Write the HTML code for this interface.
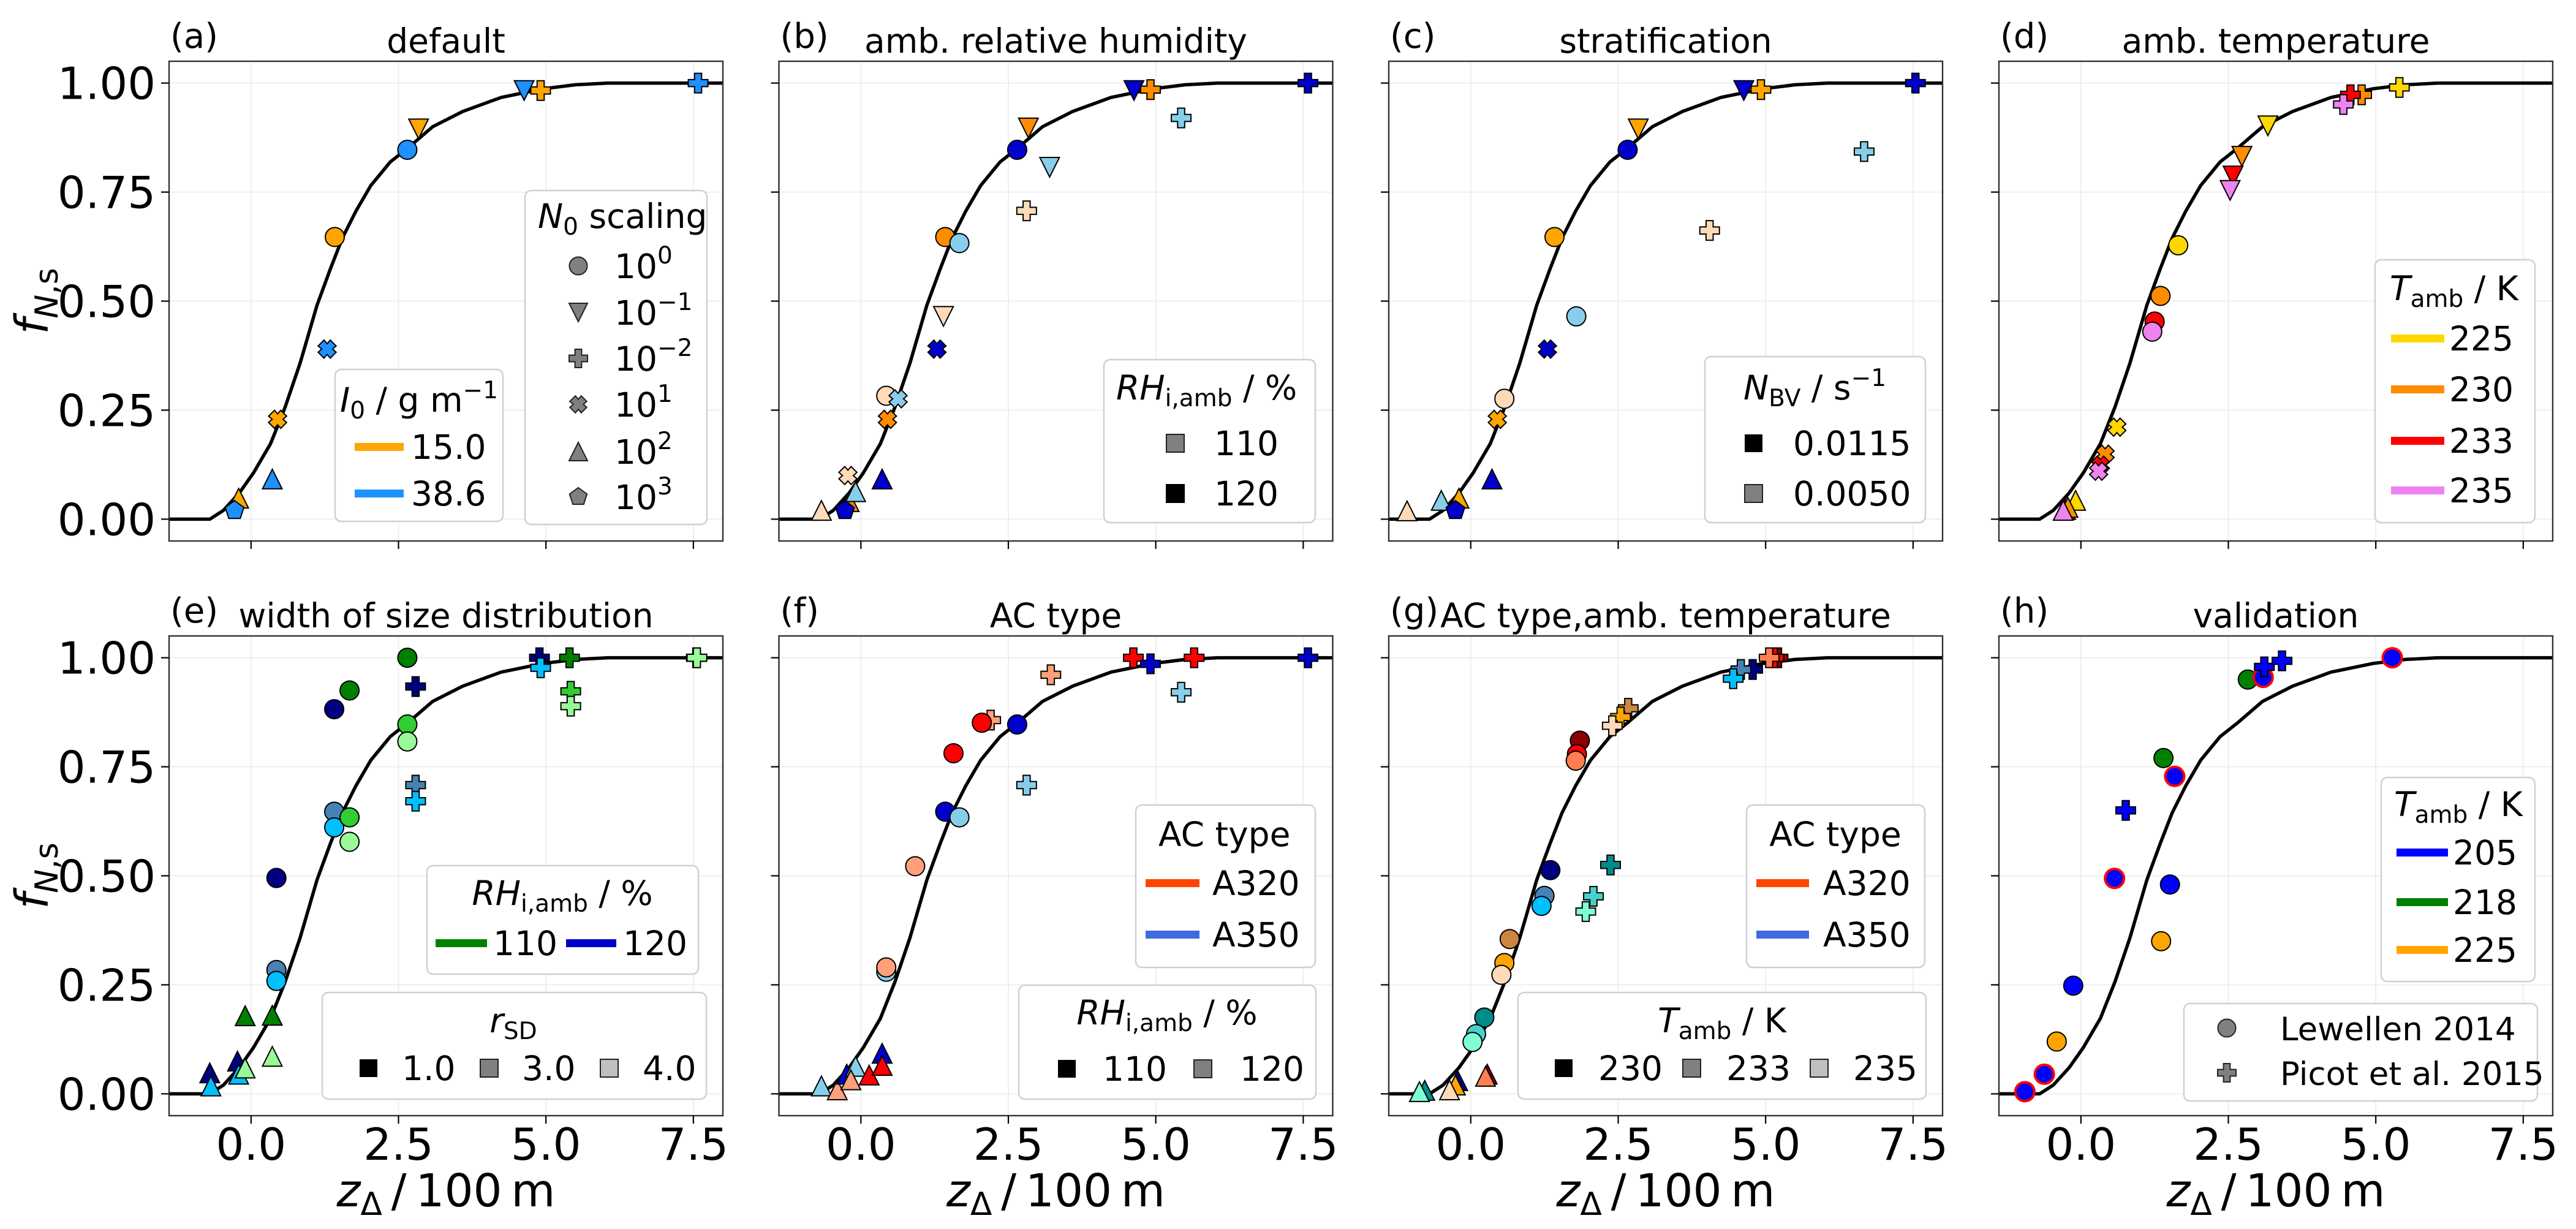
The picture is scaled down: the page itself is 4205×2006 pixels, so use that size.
<!DOCTYPE html>
<html><head><meta charset="utf-8"><title>f_N,s panels</title>
<style>
html,body{margin:0;padding:0;background:#fff;}
svg{display:block;font-family:"DejaVu Sans","Liberation Sans",sans-serif;}
</style></head>
<body>
<svg id="fig" xmlns="http://www.w3.org/2000/svg" width="4205" height="2006" viewBox="0 0 4205 2006">
<rect x="0" y="0" width="4205" height="2006" fill="#fff"/>
<g id="plots"></g>
<g id="legends" font-size="55" fill="#000">
  <g>
    <rect x="547" y="603" width="274" height="248" rx="10" fill="#fff" stroke="#d0d0d0" stroke-width="2.5"/>
    <text x="684" y="672" text-anchor="middle"><tspan font-style="italic">I</tspan><tspan dy="11" font-size="39">0</tspan><tspan dy="-11"> / g m</tspan><tspan dy="-22" font-size="39">−1</tspan></text>
    <rect x="579" y="723" width="80" height="13" fill="#FFA500"/><text x="671" y="749">15.0</text>
    <rect x="579" y="799" width="80" height="13" fill="#1E90FF"/><text x="671" y="825">38.6</text>
  </g>
  <g>
    <rect x="857" y="311" width="297" height="545" rx="10" fill="#fff" stroke="#d0d0d0" stroke-width="2.5"/>
    <text x="878" y="372"><tspan font-style="italic">N</tspan><tspan dy="11" font-size="39">0</tspan><tspan dy="-11"> scaling</tspan></text>
    <g id="n0marks"></g>
    <text x="1003" y="454">10<tspan dy="-24" font-size="39">0</tspan></text>
    <text x="1003" y="530">10<tspan dy="-24" font-size="39">−1</tspan></text>
    <text x="1003" y="605">10<tspan dy="-24" font-size="39">−2</tspan></text>
    <text x="1003" y="680">10<tspan dy="-24" font-size="39">1</tspan></text>
    <text x="1003" y="757">10<tspan dy="-24" font-size="39">2</tspan></text>
    <text x="1003" y="831">10<tspan dy="-24" font-size="39">3</tspan></text>
  </g>
  <g>
    <rect x="1802" y="587" width="345" height="266" rx="10" fill="#fff" stroke="#d0d0d0" stroke-width="2.5"/>
    <text x="1822" y="652"><tspan font-style="italic">RH</tspan><tspan dy="11" font-size="39">i,amb</tspan><tspan dy="-11"> / %</tspan></text>
    <rect x="1904" y="709" width="29" height="29" fill="#808080" stroke="#222" stroke-width="2"/><text x="1982" y="743">110</text>
    <rect x="1904" y="791" width="29" height="29" fill="#000" stroke="#000" stroke-width="2"/><text x="1982" y="825">120</text>
  </g>
  <g>
    <rect x="2783" y="582" width="360" height="271" rx="10" fill="#fff" stroke="#d0d0d0" stroke-width="2.5"/>
    <text x="2846" y="652"><tspan font-style="italic">N</tspan><tspan dy="11" font-size="39">BV</tspan><tspan dy="-11"> / s</tspan><tspan dy="-22" font-size="39">−1</tspan></text>
    <rect x="2848" y="709" width="29" height="29" fill="#000"/><text x="2927" y="743">0.0115</text>
    <rect x="2848" y="791" width="29" height="29" fill="#808080" stroke="#222" stroke-width="2"/><text x="2927" y="825">0.0050</text>
  </g>
  <g>
    <rect x="3877" y="424" width="261" height="429" rx="10" fill="#fff" stroke="#d0d0d0" stroke-width="2.5"/>
    <text x="3901" y="490"><tspan font-style="italic">T</tspan><tspan dy="11" font-size="39">amb</tspan><tspan dy="-11"> / K</tspan></text>
    <rect x="3903" y="546" width="87" height="13" fill="#FFD700"/><text x="3998" y="572">225</text>
    <rect x="3903" y="629" width="87" height="13" fill="#FF8C00"/><text x="3998" y="655">230</text>
    <rect x="3903" y="713" width="87" height="13" fill="#FF0000"/><text x="3998" y="739">233</text>
    <rect x="3903" y="794" width="87" height="13" fill="#EE82EE"/><text x="3998" y="820">235</text>
  </g>
  <g>
    <rect x="697" y="1413" width="443" height="177" rx="10" fill="#fff" stroke="#d0d0d0" stroke-width="2.5"/>
    <text x="918" y="1477" text-anchor="middle"><tspan font-style="italic">RH</tspan><tspan dy="11" font-size="39">i,amb</tspan><tspan dy="-11"> / %</tspan></text>
    <rect x="711" y="1533" width="84" height="13" fill="#008000"/><text x="805" y="1559">110</text>
    <rect x="924" y="1533" width="82" height="13" fill="#0000CD"/><text x="1017" y="1559">120</text>
  </g>
  <g>
    <rect x="526" y="1620" width="627" height="174" rx="10" fill="#fff" stroke="#d0d0d0" stroke-width="2.5"/>
    <text x="838" y="1685" text-anchor="middle"><tspan font-style="italic">r</tspan><tspan dy="11" font-size="39">SD</tspan></text>
    <rect x="587" y="1729" width="29" height="29" fill="#000"/><text x="656" y="1763">1.0</text>
    <rect x="784" y="1729" width="29" height="29" fill="#808080" stroke="#222" stroke-width="2"/><text x="852" y="1763">3.0</text>
    <rect x="980" y="1729" width="29" height="29" fill="#C0C0C0" stroke="#222" stroke-width="2"/><text x="1049" y="1763">4.0</text>
  </g>
  <g>
    <rect x="1854" y="1314" width="293" height="265" rx="10" fill="#fff" stroke="#d0d0d0" stroke-width="2.5"/>
    <text x="1891" y="1381">AC type</text>
    <rect x="1870" y="1435" width="88" height="13" fill="#FF4500"/><text x="1979" y="1461">A320</text>
    <rect x="1870" y="1519" width="88" height="13" fill="#4169E1"/><text x="1979" y="1545">A350</text>
  </g>
  <g>
    <rect x="1663" y="1608" width="485" height="186" rx="10" fill="#fff" stroke="#d0d0d0" stroke-width="2.5"/>
    <text x="1905" y="1672" text-anchor="middle"><tspan font-style="italic">RH</tspan><tspan dy="11" font-size="39">i,amb</tspan><tspan dy="-11"> / %</tspan></text>
    <rect x="1727" y="1730" width="29" height="29" fill="#000"/><text x="1800" y="1764">110</text>
    <rect x="1949" y="1730" width="29" height="29" fill="#808080" stroke="#222" stroke-width="2"/><text x="2024" y="1764">120</text>
  </g>
  <g>
    <rect x="2851" y="1314" width="291" height="265" rx="10" fill="#fff" stroke="#d0d0d0" stroke-width="2.5"/>
    <text x="2996" y="1381" text-anchor="middle">AC type</text>
    <rect x="2867" y="1435" width="86" height="13" fill="#FF4500"/><text x="2976" y="1461">A320</text>
    <rect x="2867" y="1519" width="86" height="13" fill="#4169E1"/><text x="2976" y="1545">A350</text>
  </g>
  <g>
    <rect x="2478" y="1620" width="666" height="174" rx="10" fill="#fff" stroke="#d0d0d0" stroke-width="2.5"/>
    <text x="2811" y="1685" text-anchor="middle"><tspan font-style="italic">T</tspan><tspan dy="11" font-size="39">amb</tspan><tspan dy="-11"> / K</tspan></text>
    <rect x="2538" y="1729" width="29" height="29" fill="#000"/><text x="2609" y="1763">230</text>
    <rect x="2747" y="1729" width="29" height="29" fill="#808080" stroke="#222" stroke-width="2"/><text x="2818" y="1763">233</text>
    <rect x="2955" y="1729" width="29" height="29" fill="#C0C0C0" stroke="#222" stroke-width="2"/><text x="3025" y="1763">235</text>
  </g>
  <g>
    <rect x="3887" y="1269" width="251" height="333" rx="10" fill="#fff" stroke="#d0d0d0" stroke-width="2.5"/>
    <text x="3908" y="1332"><tspan font-style="italic">T</tspan><tspan dy="11" font-size="39">amb</tspan><tspan dy="-11"> / K</tspan></text>
    <rect x="3912" y="1385" width="84" height="13" fill="#0000FF"/><text x="4004" y="1411">205</text>
    <rect x="3912" y="1466" width="84" height="13" fill="#008000"/><text x="4004" y="1492">218</text>
    <rect x="3912" y="1544" width="84" height="13" fill="#FFA500"/><text x="4004" y="1570">225</text>
  </g>
  <g>
    <rect x="3565" y="1638" width="577" height="159" rx="10" fill="#fff" stroke="#d0d0d0" stroke-width="2.5"/>
    <g id="srcmarks"></g>
    <text x="3722" y="1698" font-size="53">Lewellen 2014</text>
    <text x="3722" y="1771" font-size="53">Picot et al. 2015</text>
  </g>
</g>
</svg>
<script>
// shared fitted curve
const curveX = [-1.39,-0.70,-0.47,-0.2,0.04,0.33,0.58,0.83,1.12,1.34,1.55,1.78,2.03,2.36,2.65,3.08,3.59,4.24,4.96,5.5,6.05,8.0];
const curveY = [0,0,0.02,0.06,0.106,0.173,0.258,0.357,0.491,0.572,0.645,0.707,0.765,0.819,0.85,0.9,0.935,0.967,0.987,0.996,1.0,1.0];
const xTicks = [0, 2.5, 5, 7.5];
const xTickLabels = ["0.0","2.5","5.0","7.5"];
const yTicks = [0, 0.25, 0.5, 0.75, 1.0];
const yTickLabels = ["0.00","0.25","0.50","0.75","1.00"];

// (a)
const A_x = [-0.21,-0.28,0.36,0.45,1.29,1.42,2.65,2.84,4.63,4.91,7.58];
const A_y = [0.048,0.02,0.092,0.229,0.39,0.647,0.847,0.895,0.983,0.983,1.0];
const A_m = ["^","p","^","X","X","o","o","v","v","P","P"];
const A_c = ["#FFA500","#1E90FF","#1E90FF","#FFA500","#1E90FF","#FFA500","#1E90FF","#FFA500","#1E90FF","#FFA500","#1E90FF"];
// (b)
const B_x = [-0.67,-0.2,-0.27,-0.09,-0.22,0.36,0.45,0.43,0.63,1.29,1.40,1.43,1.67,2.65,2.84,3.20,2.81,4.63,4.91,5.43,7.58];
const B_y = [0.02,0.04,0.02,0.063,0.10,0.092,0.229,0.283,0.276,0.39,0.465,0.647,0.633,0.847,0.897,0.807,0.707,0.983,0.985,0.92,1.0];
const B_m = ["^","^","p","^","X","^","X","o","X","X","v","o","o","o","v","v","P","v","P","P","P"];
const B_c = ["#FFDAB9","#FF8C00","#0000CD","#87CEEB","#FFDAB9","#0000CD","#FF8C00","#FFDAB9","#87CEEB","#0000CD","#FFDAB9","#FF8C00","#87CEEB","#0000CD","#FF8C00","#87CEEB","#FFDAB9","#0000CD","#FF8C00","#87CEEB","#0000CD"];
// (c)
const C_x = [-1.08,-0.5,-0.2,-0.26,0.36,0.45,0.57,1.30,1.79,1.42,2.66,2.84,4.05,4.63,4.92,6.67,7.54];
const C_y = [0.019,0.043,0.048,0.02,0.092,0.229,0.276,0.39,0.465,0.647,0.847,0.895,0.662,0.983,0.985,0.843,1.0];
const C_m = ["^","^","^","p","^","X","o","X","o","o","o","v","P","v","P","P","P"];
const C_c = ["#FFDAB9","#87CEEB","#FFA500","#0000CD","#0000CD","#FFA500","#FFDAB9","#0000CD","#87CEEB","#FFA500","#0000CD","#FFA500","#FFDAB9","#0000CD","#FFA500","#87CEEB","#0000CD"];
// (d)
const D_x = [-0.09,-0.26,-0.22,-0.3,0.61,0.41,0.33,0.30,1.65,1.35,1.25,1.21,3.17,2.73,2.58,2.53,5.40,4.76,4.57,4.45];
const D_y = [0.043,0.022,0.027,0.02,0.211,0.149,0.124,0.11,0.628,0.512,0.453,0.43,0.902,0.832,0.787,0.754,0.99,0.973,0.973,0.951];
const D_m = ["^","^","^","^","X","X","X","X","o","o","o","o","v","v","v","v","P","P","P","P"];
const D_c = ["#FFD700","#FF0000","#FF8C00","#EE82EE","#FFD700","#FF8C00","#FF0000","#EE82EE","#FFD700","#FF8C00","#FF0000","#EE82EE","#FFD700","#FF8C00","#FF0000","#EE82EE","#FFD700","#FF8C00","#FF0000","#EE82EE"];
// (e)
const E_x = [-0.70,-0.68,-0.23,-0.21,-0.1,-0.1,0.36,0.36,0.43,0.43,0.43,1.41,1.41,1.41,1.67,1.67,1.67,2.65,2.65,2.65,2.79,2.79,2.79,4.89,4.91,5.40,5.42,5.42,7.55,7.56];
const E_y = [0.048,0.018,0.075,0.045,0.059,0.179,0.18,0.086,0.495,0.284,0.259,0.882,0.647,0.611,0.925,0.634,0.578,1.0,0.847,0.808,0.934,0.708,0.671,1.0,0.977,1.0,0.923,0.889,1.0,1.0];
const E_m = ["^","^","^","^","^","^","^","^","o","o","o","o","o","o","o","o","o","o","o","o","P","P","P","P","P","P","P","P","P","P"];
const E_c = ["#000080","#00BFFF","#000080","#00BFFF","#98FB98","#008000","#008000","#98FB98","#000080","#4682B4","#00BFFF","#000080","#4682B4","#00BFFF","#008000","#32CD32","#98FB98","#008000","#32CD32","#98FB98","#000080","#4682B4","#00BFFF","#000080","#00BFFF","#008000","#32CD32","#98FB98","#32CD32","#98FB98"];
// (f)
const F_x = [-0.67,-0.4,-0.24,-0.09,-0.17,0.14,0.36,0.36,0.43,0.43,0.92,1.43,1.67,1.57,2.2,2.05,2.65,2.81,3.22,4.62,4.91,5.65,5.43,7.58];
const F_y = [0.018,0.009,0.045,0.063,0.032,0.043,0.093,0.065,0.28,0.29,0.522,0.647,0.634,0.781,0.857,0.851,0.847,0.708,0.961,1.0,0.986,1.0,0.921,1.0];
const F_m = ["^","^","^","^","^","^","^","^","o","o","o","o","o","o","P","o","o","P","P","P","P","P","P","P"];
const F_c = ["#87CEEB","#FFA07A","#0000CD","#87CEEB","#FFA07A","#FF0000","#0000CD","#FF0000","#87CEEB","#FFA07A","#FFA07A","#0000CD","#87CEEB","#FF0000","#FFA07A","#FF0000","#0000CD","#87CEEB","#FFA07A","#FF0000","#0000CD","#FF0000","#87CEEB","#0000CD"];
// (g)
const G_x = [-0.78,-0.87,-0.22,-0.26,-0.36,0.28,0.25,0.23,0.09,0.03,0.66,0.57,0.52,1.35,1.25,1.2,2.37,2.08,1.95,1.85,1.8,1.78,2.67,2.54,2.4,4.78,4.58,4.45,5.21,5.14,5.06];
const G_y = [0.008,0.005,0.03,0.02,0.009,0.045,0.04,0.175,0.137,0.119,0.355,0.3,0.273,0.513,0.454,0.431,0.525,0.453,0.418,0.81,0.779,0.764,0.884,0.864,0.844,0.973,0.973,0.952,1.0,1.0,1.0];
const G_m = ["^","^","^","^","^","^","^","o","o","o","o","o","o","o","o","o","P","P","P","o","o","o","P","P","P","P","P","P","P","P","P"];
const G_c = ["#008B8B","#7FFFD4","#000080","#FFA500","#FFDAB9","#8B0000","#FF7F50","#008B8B","#48D1CC","#7FFFD4","#CD853F","#FFA500","#FFDAB9","#000080","#4682B4","#00BFFF","#008B8B","#48D1CC","#7FFFD4","#8B0000","#FF0000","#FF7F50","#CD853F","#FFA500","#FFDAB9","#000080","#4682B4","#00BFFF","#8B0000","#FF0000","#FF7F50"];
// (h)
const H_x = [-0.95,-0.62,-0.41,-0.13,0.57,1.51,1.36,1.40,1.59,0.76,2.83,3.09,3.11,3.41,5.28];
const H_y = [0.005,0.045,0.12,0.248,0.494,0.48,0.35,0.77,0.728,0.65,0.95,0.955,0.979,0.993,1.0];
const H_m = ["o","o","o","o","o","o","o","o","o","P","o","o","P","P","o"];
const H_c = ["#0000FF","#0000FF","#FFA500","#0000FF","#0000FF","#0000FF","#FFA500","#008000","#0000FF","#0000FF","#008000","#0000FF","#0000FF","#0000FF","#0000FF"];
const H_e = ["#FF0000","#FF0000","#000","#000","#FF0000","#000","#000","#000","#FF0000","#000","#000","#FF0000","#000","#000","#FF0000"];

const NS = "http://www.w3.org/2000/svg";
const XMIN = -1.39, XMAX = 8.0, YMIN = -0.05, YMAX = 1.05;
const W = 904, H = 783;
const lefts = [276, 1271.5, 2267, 3263];
const tops = [100, 1038];
const panels = [
  {id:"a", title:"default", x:A_x, y:A_y, m:A_m, c:A_c},
  {id:"b", title:"amb. relative humidity", x:B_x, y:B_y, m:B_m, c:B_c},
  {id:"c", title:"stratification", x:C_x, y:C_y, m:C_m, c:C_c},
  {id:"d", title:"amb. temperature", x:D_x, y:D_y, m:D_m, c:D_c},
  {id:"e", title:"width of size distribution", x:E_x, y:E_y, m:E_m, c:E_c},
  {id:"f", title:"AC type", x:F_x, y:F_y, m:F_m, c:F_c},
  {id:"g", title:"AC type,amb. temperature", x:G_x, y:G_y, m:G_m, c:G_c},
  {id:"h", title:"validation", x:H_x, y:H_y, m:H_m, c:H_c, e:H_e}
];

function mk(tag, attrs, parent){
  const el = document.createElementNS(NS, tag);
  for (const k in attrs) el.setAttribute(k, attrs[k]);
  if (parent) parent.appendChild(el);
  return el;
}
function markerPath(m, cx, cy, s){
  if (m === "^") return `M${cx},${cy-s} L${cx-s},${cy+s} L${cx+s},${cy+s} Z`;
  if (m === "v") return `M${cx},${cy+s} L${cx-s},${cy-s} L${cx+s},${cy-s} Z`;
  if (m === "P") { const a=s, b=s*0.36;
    return `M${cx-b},${cy-a} H${cx+b} V${cy-b} H${cx+a} V${cy+b} H${cx+b} V${cy+a} H${cx-b} V${cy+b} H${cx-a} V${cy-b} H${cx-b} Z`; }
  if (m === "X") { const pts=[[-0.35,-1],[0,-0.6],[0.35,-1],[1,-0.35],[0.6,0],[1,0.35],[0.35,1],[0,0.6],[-0.35,1],[-1,0.35],[-0.6,0],[-1,-0.35]];
    return "M" + pts.map(p => `${cx+p[0]*s*0.92},${cy+p[1]*s*0.92}`).join(" L") + " Z"; }
  if (m === "p") { let d=""; for (let i=0;i<5;i++){ const ang=-Math.PI/2+i*2*Math.PI/5; d += (i?" L":"M") + `${cx+s*Math.cos(ang)},${cy+s*Math.sin(ang)}`; } return d+" Z"; }
  return null;
}
function drawMarker(parent, m, cx, cy, fill, edge, ew, s){
  let el;
  if (m === "o") el = mk("circle", {cx:cx, cy:cy, r:s*0.97, fill:fill, stroke:edge, "stroke-width":ew}, parent);
  else el = mk("path", {d:markerPath(m,cx,cy,s), fill:fill, stroke:edge, "stroke-width":ew, "stroke-linejoin":"miter"}, parent);
  return el;
}

const root = document.getElementById("plots");
panels.forEach((p, i) => {
  const col = i % 4, row = Math.floor(i / 4);
  const L = lefts[col], T = tops[row];
  const sx = v => L + (v - XMIN) / (XMAX - XMIN) * W;
  const sy = v => T + (YMAX - v) / (YMAX - YMIN) * H;
  const g = mk("g", {}, root);
  
  
  mk("rect", {x:L, y:T, width:W, height:H, fill:"#fff"}, g);
  xTicks.forEach(t => { const gl = mk("line", {x1:sx(t), x2:sx(t), y1:T, y2:T+H, stroke:"#ebebeb", "stroke-width":1.6}, g);
      });
  yTicks.forEach(t => { const gl = mk("line", {x1:L, x2:L+W, y1:sy(t), y2:sy(t), stroke:"#ebebeb", "stroke-width":1.6}, g);
      });
  const d = curveX.map((x, k) => (k ? "L" : "M") + sx(x).toFixed(1) + "," + sy(curveY[k]).toFixed(1)).join(" ");
  const cv = mk("path", {d:d, fill:"none", stroke:"#000", "stroke-width":5.5, "stroke-linejoin":"round"}, g);
  
  
  const pg = mk("g", {}, g);
  
  
  p.x.forEach((xv, k) => {
    const edge = p.e ? p.e[k] : "#000";
    const ew = (p.e && edge !== "#000") ? 4 : 2;
    const mkEl = drawMarker(pg, p.m[k], sx(xv), sy(p.y[k]), p.c[k], edge, ew, 16);
    
    
  });
  mk("rect", {x:L, y:T, width:W, height:H, fill:"none", stroke:"#333", "stroke-width":2.4}, g);
  xTicks.forEach((t, k) => {
    mk("line", {x1:sx(t), x2:sx(t), y1:T+H, y2:T+H+13, stroke:"#000", "stroke-width":2.2}, g);
    if (row === 1) {
      const tl = mk("text", {x:sx(t), y:T+H+72, "text-anchor":"middle", "font-size":72}, g);
      tl.textContent = xTickLabels[k];
      
      
    }
  });
  yTicks.forEach((t, k) => {
    mk("line", {x1:L-13, x2:L, y1:sy(t), y2:sy(t), stroke:"#000", "stroke-width":2.2}, g);
    if (col === 0) {
      const tl = mk("text", {x:L-22, y:sy(t)+26, "text-anchor":"end", "font-size":72}, g);
      tl.textContent = yTickLabels[k];
      
      
    }
  });
  const tt = mk("text", {x:L+W/2, y:T-14, "text-anchor":"middle", "font-size":55}, g);
  tt.textContent = p.title;
  
  
  const pl = mk("text", {x:L+2, y:T-22, "font-size":56}, g);
  pl.textContent = "(" + p.id + ")";
  
  
  if (row === 1) {
    const xl = mk("text", {x:L+W/2, y:T+H+148, "text-anchor":"middle", "font-size":74}, g);
    xl.innerHTML = '<tspan font-style="italic">z</tspan><tspan dy="14" font-size="52">Δ</tspan><tspan dy="-14">\u2009/\u2009100\u2009m</tspan>';
    
    
  }
  if (col === 0) {
    const cy = T + H/2;
    const yl = mk("text", {x:0, y:0, transform:`translate(78,${cy}) rotate(-90)`, "text-anchor":"middle", "font-size":74}, g);
    yl.innerHTML = '<tspan font-style="italic">f</tspan><tspan dy="16" font-size="52" font-style="italic">N</tspan><tspan font-size="52">,s</tspan>';
    
    
  }
});

const n0Markers = ["o","v","P","X","^","p"];
const n0Rows = [434,510,585,660,737,811];
const n0g = document.getElementById("n0marks");
n0Markers.forEach((m, k) => {
  const el = drawMarker(n0g, m, 944, n0Rows[k], "#808080", "#222", 2, 15);
  
  
});
const sg = document.getElementById("srcmarks");
const s1 = drawMarker(sg, "o", 3635, 1678, "#808080", "#222", 2, 15);


const s2 = drawMarker(sg, "P", 3635, 1751, "#808080", "#222", 2, 15);


</script>
</body></html>
